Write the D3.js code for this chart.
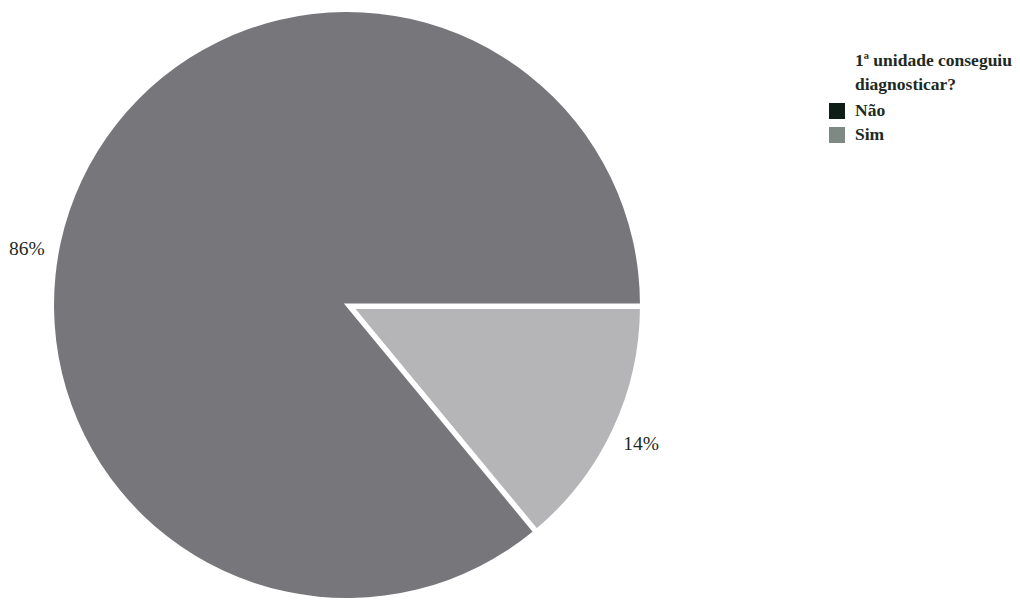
<!DOCTYPE html>
<html><head><meta charset="utf-8">
<script src="https://cdn.jsdelivr.net/npm/d3@7"></script>
<style>body{margin:0;background:#fff}svg{display:block}</style>
</head><body>
<svg id="c" width="1020" height="600"></svg>
<script>
// Data
const categories = ["Não", "Sim"];
const values = [86, 14];
const legendTitle = ["1ª unidade conseguiu", "diagnosticar?"];
const sliceColors = ["#77777b", "#b5b5b7"];
const legendColors = ["#0e1d16", "#7e8984"];
const labelAngleDeg = [280, null]; // null = slice mid-angle

const svg = d3.select("#c");
const cx = 347, cy = 305, R = 293;
const textColor = "#1d2a23";
const serif = "'Liberation Serif', 'Times New Roman', serif";

const data = categories.map((c, i) => ({cat: c, value: values[i], i}));
// drawing order: start at 3 o'clock with "Sim", then "Não"
const pieOrder = [data[1], data[0]];
const pie = d3.pie().sort(null).value(d => d.value)
  .startAngle(Math.PI / 2).endAngle(Math.PI / 2 + 2 * Math.PI);
const arcs = pie(pieOrder);
const arc = d3.arc().innerRadius(0).outerRadius(R);

const g = svg.append("g").attr("transform", `translate(${cx},${cy})`);

// big slice first, then smaller offset slice with white outline
const drawOrder = arcs.slice().sort((a, b) => b.value - a.value);
drawOrder.forEach(a => {
  const small = a.data.value < 50;
  const mid = (a.startAngle + a.endAngle) / 2;
  const off = small ? 3 : 0;
  g.append("path")
    .attr("d", arc(a))
    .attr("transform", `translate(${off * Math.sin(mid)},${-off * Math.cos(mid)})`)
    .attr("fill", sliceColors[a.data.i])
    .attr("stroke", small ? "#fff" : "none")
    .attr("stroke-width", small ? 5.5 : 0)
    .attr("stroke-linejoin", "miter");
});

// labels
const fmt = d3.format(".0%");
const total = d3.sum(values);
const labelR = R + 32;
arcs.forEach(a => {
  const deg = labelAngleDeg[a.data.i];
  const ang = deg == null ? (a.startAngle + a.endAngle) / 2 : deg * Math.PI / 180;
  g.append("text")
    .attr("x", labelR * Math.sin(ang))
    .attr("y", -labelR * Math.cos(ang))
    .attr("dy", "0.35em")
    .attr("text-anchor", "middle")
    .attr("font-family", serif)
    .attr("font-size", 19.5)
    .attr("fill", textColor)
    .text(fmt(a.data.value / total));
});

// legend
const lg = svg.append("g").attr("font-family", serif)
  .attr("font-weight", "bold").attr("font-size", 17.5).attr("fill", textColor);
legendTitle.forEach((t, i) => {
  lg.append("text").attr("x", 855).attr("y", 66 + i * 24).text(t);
});
categories.forEach((c, i) => {
  lg.append("rect").attr("x", 829).attr("y", 103 + i * 24).attr("width", 16).attr("height", 16)
    .attr("fill", legendColors[i]);
  lg.append("text").attr("x", 855).attr("y", 116 + i * 24).text(c);
});
</script>
</body></html>
